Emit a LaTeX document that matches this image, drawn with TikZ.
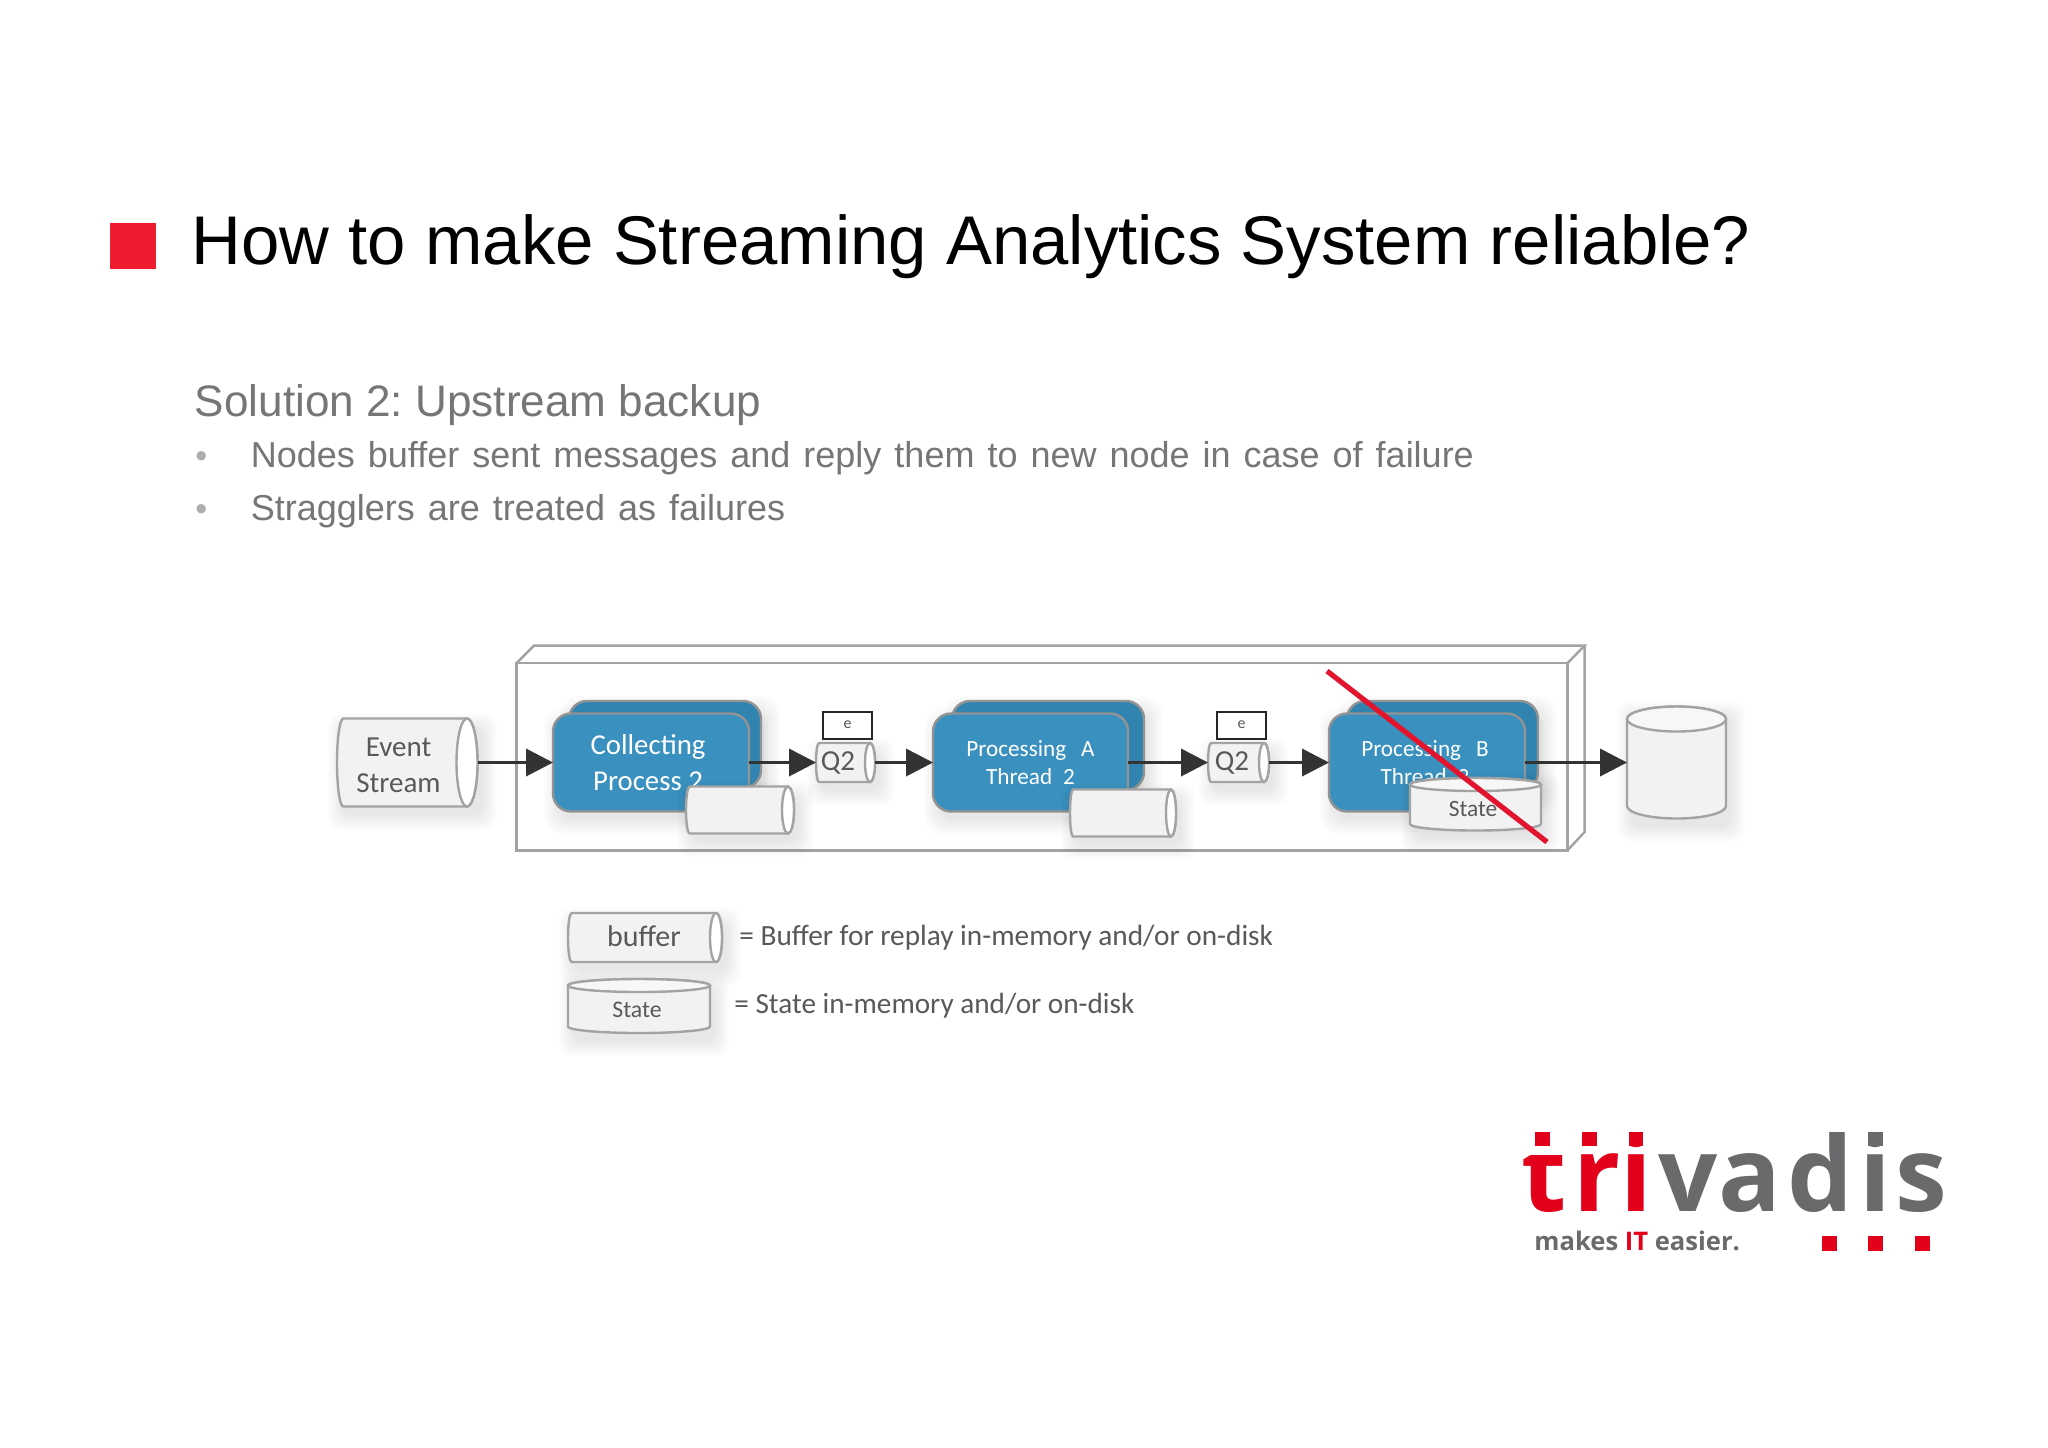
\documentclass[tikz,border=0pt]{standalone}
\usepackage{fontspec}
\setmainfont{Liberation Sans}
\newfontfamily\calib{Carlito}
\newfontfamily\logof{Open Sans}
\usetikzlibrary{arrows.meta}
\frenchspacing
\definecolor{edgegrey}{HTML}{A3A3A3}
\definecolor{bodyfill}{HTML}{F2F2F2}
\definecolor{labelgrey}{HTML}{595959}
\definecolor{subgrey}{HTML}{767676}
\definecolor{blueA}{HTML}{3A90BE}
\definecolor{blueB}{HTML}{3184B0}
\definecolor{redline}{HTML}{E3142D}
\definecolor{redsq}{HTML}{EE1C2E}
\definecolor{logored}{HTML}{E2001A}
\definecolor{logogrey}{HTML}{6A6A6C}
\tikzset{
  edge/.style={draw=edgegrey,line width=1.2pt},
  conn/.style={draw=black!80,line width=1.5pt,-{Triangle[length=13.5pt,width=13.6pt]},shorten >=0pt},
  proc/.style={rectangle,rounded corners=9pt,draw=edgegrey!90!black,line width=1.2pt,fill=blueA,text=white,align=center,inner sep=0pt,outer sep=0pt},
  procback/.style={proc,fill=blueB},
  slot/.style={rectangle,inner sep=0pt,outer sep=0pt},
  clabel/.style={text=labelgrey,align=center,inner sep=0pt},
  tline/.style={anchor=base west,inner sep=0pt,text=subgrey},
  logoletter/.style={anchor=base,inner sep=0pt,font=\logof\bfseries\fontsize{52}{52}\selectfont},
}
% soft shadow: x1 y1 x2 y2 radius(pt)
\newcommand{\softsh}[5]{%
  \foreach \k in {14,12,10,8,6,4,2,0}{%
    \fill[black,opacity=.011,rounded corners=#5] ({#1+5-\k},{#2+9-\k}) rectangle ({#3+5+\k},{#4+9+\k});}}
% horizontal can: name x1 y1 x2 y2 rx
\newcommand{\hcan}[6]{%
  \softsh{#2}{#3}{#4}{#5}{6pt}%
  \path[edge,fill=bodyfill] ({#2+#6*.6},#3) -- ({#4-#6},#3)
     arc[start angle=-90,end angle=90,x radius=#6,y radius={(#5-#3)/2}]
     -- ({#2+#6*.6},#5)
     arc[start angle=90,end angle=270,x radius={#6*.6},y radius={(#5-#3)/2}] -- cycle;
  \path[edge,fill=white] ({#4-#6},{(#3+#5)/2}) ellipse[x radius=#6,y radius={(#5-#3)/2}];
  \node[slot,minimum width={(#4-#2)*.5pt},minimum height={(#5-#3)*.5pt}] (#1) at ({(#2+#4)/2},{(#3+#5)/2}) {};}
% vertical can: name x1 y1 x2 y2 ry
\newcommand{\vcan}[6]{%
  \softsh{#2}{#3}{#4}{#5}{6pt}%
  \path[edge,fill=bodyfill] (#2,{#3+#6}) -- (#2,{#5-#6})
     arc[start angle=180,end angle=0,x radius={(#4-#2)/2},y radius=#6]
     -- (#4,{#3+#6})
     arc[start angle=0,end angle=-180,x radius={(#4-#2)/2},y radius=#6] -- cycle;
  \path[edge,fill=bodyfill!60!white] ({(#2+#4)/2},{#3+#6}) ellipse[x radius={(#4-#2)/2},y radius=#6];
  \node[slot,minimum width={(#4-#2)*.5pt},minimum height={(#5-#3)*.5pt}] (#1) at ({(#2+#4)/2},{(#3+#5)/2}) {};}
% process pair: name x1 x2 backx1 backx2 backbottom font text
\newcommand{\procpair}[7]{%
  \softsh{#4}{701}{#5}{#6}{9pt}%
  \softsh{#2}{713}{#3}{811}{9pt}%
  \node[procback,minimum width={(#5-#4)*.5pt},minimum height={(#6-701)*.5pt}] (#1b) at ({(#4+#5)/2},{(701+#6)/2}) {};
  \node[proc,font=#7,minimum width={(#3-#2)*.5pt},minimum height=49pt] (#1) at ({(#2+#3)/2},762.5) {\procText};}
\begin{document}
\begin{tikzpicture}[x=.5pt,y=-.5pt]
\useasboundingbox (0,0) rectangle (2048,1447);
\fill[white] (0,0) rectangle (2048,1447);
% heading
\node[slot,fill=redsq,minimum width=23pt,minimum height=23pt] (sq) at (133,246) {};
\node[anchor=base west,inner sep=0pt,font=\fontsize{34.45}{36}\selectfont] (title) at (191.5,264) {How to make Streaming Analytics System reliable?};
\node[tline,font=\fontsize{22.05}{24}\selectfont] (sol) at (194.5,416) {Solution 2: Upstream backup};
\node[tline,text=subgrey!60!white,font=\fontsize{17}{20}\selectfont] (b1) at (195,467) {•};
\node[tline,font=\fontsize{18}{22}\selectfont] (t1) at (250.5,467) {Nodes\hspace{1.5pt} buffer\hspace{1.5pt} sent\hspace{1.5pt} messages\hspace{1.5pt} and\hspace{1.5pt} reply\hspace{1.5pt} them\hspace{1.5pt} to\hspace{1.5pt} new\hspace{1.5pt} node\hspace{1.5pt} in\hspace{1.5pt} case\hspace{1.5pt} of\hspace{1.5pt} failure};
\node[tline,text=subgrey!60!white,font=\fontsize{17}{20}\selectfont] (b2) at (195,520) {•};
\node[tline,font=\fontsize{18}{22}\selectfont] (t2) at (250.5,520.5) {Stragglers\hspace{1.5pt} are\hspace{1.5pt} treated\hspace{1.5pt} as\hspace{1.5pt} failures};
% frame
\node[slot,draw=edgegrey,line width=1.2pt,minimum width=525.5pt,minimum height=93.6pt] (frame) at (1042,756.7) {};
\coordinate (bl) at (534,645.6);
\coordinate (br) at (1584.6,645.6);
\coordinate (brb) at (1584.6,832);
\draw[edge] (frame.north west) -- (bl) -- (br) -- (frame.north east);
\draw[edge] (br) -- (brb) -- (frame.south east);
% input
\hcan{evt}{337}{718.5}{477.5}{806.5}{10.5}
\node[clabel,font=\calib\fontsize{14.5}{18}\selectfont] (evtt) at (398.5,765) {Event\\Stream};
% stage 1
\def\procText{Collecting\kern3pt\\Process 2\kern3pt}
\procpair{p1}{553}{749}{569}{761}{788}{\calib\fontsize{14.4}{18}\selectfont}
\hcan{buf1}{686}{786.5}{794}{833.5}{6}
\hcan{q1}{816}{743}{875}{782}{5}
\node[clabel,font=\calib\fontsize{14.5}{15}\selectfont] (q1t) at (838,762.5) {Q2};
\node[slot,draw=black!85,line width=1pt,fill=white,minimum width=24.7pt,minimum height=13.5pt,font=\calib\fontsize{8}{10}\selectfont,text=labelgrey] (e1) at (847.7,725) {e};
% stage 2
\def\procText{Processing\hspace{7.5pt}A\\Thread\hspace{5.5pt}2}
\procpair{p2}{933}{1128}{952}{1144}{790}{\calib\fontsize{11.6}{14.4}\selectfont}
\hcan{buf2}{1070}{789.5}{1176}{836.5}{5}
\hcan{q2}{1208}{743}{1269}{782}{5}
\node[clabel,font=\calib\fontsize{14.5}{15}\selectfont] (q2t) at (1232,762.5) {Q2};
\node[slot,draw=black!85,line width=1pt,fill=white,minimum width=24.7pt,minimum height=13.5pt,font=\calib\fontsize{8}{10}\selectfont,text=labelgrey] (e2) at (1241.7,725) {e};
% stage 3
\def\procText{Processing\hspace{7.5pt}B\kern2pt\\Thread\hspace{5.5pt}2\kern2pt}
\procpair{p3}{1329}{1525}{1347}{1538}{790}{\calib\fontsize{11.6}{14.4}\selectfont}
\vcan{st1}{1410}{778}{1541}{830.5}{6.5}
\node[clabel,font=\calib\fontsize{11.7}{14}\selectfont] (st1t) at (1473,809) {State};
% sink
\vcan{sink}{1627}{706.5}{1726}{818.5}{12.5}
% connectors
\draw[conn] (evt.east) -- (p1.west);
\draw[conn] (p1.east) -- (q1.west);
\draw[conn] (q1.east) -- (p2.west);
\draw[conn] (p2.east) -- (q2.west);
\draw[conn] (q2.east) -- (p3.west);
\draw[conn] (p3.east) -- (sink.west);
% strike
\coordinate (xa) at (1327,671);
\coordinate (xb) at (1547,842);
\draw[redline,line width=2.6pt] (xa) -- (xb);
% legend
\hcan{lb}{568}{913}{722}{962}{6}
\node[clabel,font=\calib\fontsize{15}{16}\selectfont] (lbt) at (644,936) {buffer};
\node[anchor=west,inner sep=0pt,text=labelgrey,font=\calib\fontsize{14.65}{16}\selectfont] (lbd) at (739,938) {= Buffer for replay in-memory and/or on-disk};
\vcan{ls}{568}{979}{710}{1033}{6.5}
\node[clabel,font=\calib\fontsize{11.9}{14}\selectfont] (lst) at (637,1009.5) {State};
\node[anchor=west,inner sep=0pt,text=labelgrey,font=\calib\fontsize{14.6}{16}\selectfont] (lsd) at (734,1006) {= State in-memory and/or on-disk};
% logo
\node[logoletter,text=logored] (lt) at (1544,1211.7) {t};
\node[logoletter,text=logored] (lr) at (1597,1211.7) {r};
\node[logoletter,text=logored] (li) at (1636,1211.7) {i};
\node[logoletter,text=logogrey] (lv) at (1688,1211.7) {v};
\node[logoletter,text=logogrey] (la) at (1750,1211.7) {a};
\node[logoletter,text=logogrey] (ld) at (1820,1211.7) {d};
\node[logoletter,text=logogrey] (li2) at (1875,1211.7) {i};
\node[logoletter,text=logogrey] (ls2) at (1921,1211.7) {s};
\fill[white] (1530,1110) rectangle (1570,1155);
\fill[white] (1570,1110) rectangle (1650,1146);
\fill[white] (1860,1110) rectangle (1890,1146);
\fill[logored] (1535,1132) rectangle (1550,1146);
\fill[logored] (1582,1132) rectangle (1597,1146);
\fill[logored] (1629,1132) rectangle (1643,1146);
\fill[logogrey] (1868,1132) rectangle (1883,1146);
\fill[logored] (1822,1236) rectangle (1837,1251);
\fill[logored] (1868,1236) rectangle (1883,1251);
\fill[logored] (1915,1236) rectangle (1930,1251);
\node[anchor=base west,inner sep=0pt,font=\logof\bfseries\fontsize{12.8}{15}\selectfont,text=logogrey] (tag) at (1534,1250.5) {makes {\color{logored}IT} easier.};
\end{tikzpicture}
\end{document}
